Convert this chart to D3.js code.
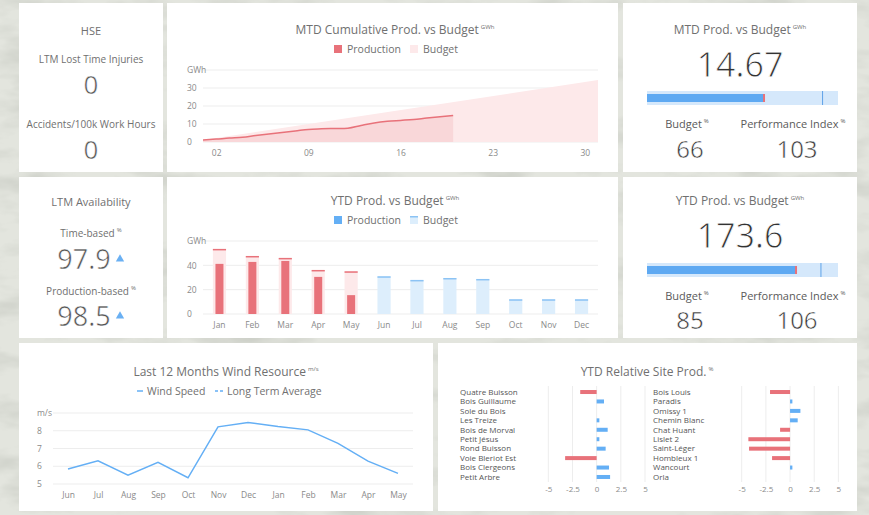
<!DOCTYPE html>
<html>
<head>
<meta charset="utf-8">
<script src="https://cdn.jsdelivr.net/npm/d3@7"></script>
<style>
  body { margin: 0; background: #e1e3dc; }
  svg text { font-family: "Open Sans", sans-serif; }
</style>
</head>
<body>
<svg id="dash" width="869" height="515"></svg>
<script>
// ---- data ----
const mtdDays = [1,2,3,4,5,6,7,8,9,10,11,12,13,14,15,16,17,18,19,20];
const mtdProd = [1.1,1.6,2.2,2.6,3.6,4.5,5.3,6.1,7.0,7.3,7.5,7.7,9.2,10.6,11.5,12.0,12.5,13.3,14.0,14.67];
const mtdBudgetDays = [1, 31];
const mtdBudget = [1.1, 34.4];
const mtdTicks = [2, 9, 16, 23, 30];

const months = ["Jan","Feb","Mar","Apr","May","Jun","Jul","Aug","Sep","Oct","Nov","Dec"];
const ytdProd = [41.2, 42.8, 43.6, 30.5, 15.5];
const ytdBudget = [53.5, 47.7, 46.1, 36.2, 35.1, 31.0, 28.0, 29.6, 28.8, 12.1, 12.1, 12.1];

const kpiTitles = ["MTD Prod. vs Budget", "YTD Prod. vs Budget"];
const kpiValues = [14.67, 173.6];
const kpiLabels = ["14.67", "173.6"];
const kpiTargets = [22.2, 204];
const kpiMax = [24.15, 224];
const kpiBudgetPct = [66, 85];
const kpiPerfIdx = [103, 106];

const windMonths = ["Jun","Jul","Aug","Sep","Oct","Nov","Dec","Jan","Feb","Mar","Apr","May"];
const windSpeed = [5.85, 6.31, 5.5, 6.22, 5.35, 8.22, 8.47, 8.24, 8.05, 7.29, 6.29, 5.6];

const sitesA = ["Quatre Buisson","Bois Guillaume","Sole du Bois","Les Treize","Bois de Morval","Petit Jésus","Rond Buisson","Voie Bleriot Est","Bois Clergeons","Petit Arbre"];
const relA = [-1.7, 0.76, 0, 0.28, 1.14, 0.28, 0.93, -3.26, 1.28, 1.39];
const sitesB = ["Bois Louis","Paradis","Omissy 1","Chemin Blanc","Chat Huant","Lislet 2","Saint-Léger","Hombleux 1","Wancourt","Orla"];
const relB = [-2.07, 0.24, 1.07, 0.79, -1.03, -4.31, -4.24, -1.86, 0.24, 0];
const relTicks = [-5, -2.5, 0, 2.5, 5];

// ---- colours ----
const RED = "#e8727a", PINK = "#fde9ea", PINK2 = "#f9d7d9";
const BLUE = "#64aff5", LBLUE = "#ddeefc", BLUE_TOP = "#8cc3f4";
const GRID = "#ededed", TICK = "#8a8a8a", TITLE = "#707070";

const svg = d3.select("#dash");

// marble-ish background
const defs = svg.append("defs");
const f = defs.append("filter").attr("id", "marble").attr("x", 0).attr("y", 0).attr("width", "100%").attr("height", "100%");
f.append("feTurbulence").attr("type", "fractalNoise").attr("baseFrequency", "0.015 0.04").attr("numOctaves", 4).attr("seed", 7);
f.append("feColorMatrix").attr("type", "matrix")
  .attr("values", "0 0 0 0 0.55  0 0 0 0 0.57  0 0 0 0 0.52  1.6 0 0 0 -0.72");
svg.append("rect").attr("width", 869).attr("height", 515).attr("fill", "#e3e5de");
svg.append("rect").attr("width", 869).attr("height", 515).attr("filter", "url(#marble)");

function panel(x, y, w, h) {
  svg.append("rect").attr("x", x).attr("y", y).attr("width", w).attr("height", h).attr("fill", "#fff");
  return svg.append("g");
}

function txt(g, x, y, s, size, fill, anchor = "middle") {
  return g.append("text")
    .attr("x", x).attr("y", y).attr("dy", "0.35em")
    .attr("text-anchor", anchor)
    .attr("fill", fill)
    .style("font-size", size + "px")
    .text(s);
}

// big light numbers: thin the glyphs a little with a white stroke
function big(g, x, y, s, size, fill, thin) {
  return txt(g, x, y, s, size, fill)
    .attr("stroke", "#fff").attr("stroke-width", thin);
}

function sup(t, s) {
  t.append("tspan").attr("dx", 2).attr("dy", -5).style("font-size", "6px").text(s);
  return t;
}

function styleAxis(g) {
  g.select(".domain").remove();
  g.selectAll("text").attr("fill", TICK).style("font-size", "8.5px");
}

// ---- HSE ----
{
  const g = panel(19, 3, 144, 169);
  txt(g, 91, 31, "HSE", 11, TITLE);
  txt(g, 91, 59, "LTM Lost Time Injuries", 10, TITLE);
  big(g, 91, 85, "0", 26, "#555", 0.5);
  txt(g, 91, 124, "Accidents/100k Work Hours", 10, TITLE);
  big(g, 91, 150, "0", 26, "#555", 0.5);
}

// ---- MTD cumulative ----
{
  const g = panel(167, 3, 451, 169);
  sup(txt(g, 395, 30, "MTD Cumulative Prod. vs Budget", 12, TITLE), "GWh");
  g.append("rect").attr("x", 334).attr("y", 45).attr("width", 8).attr("height", 8).attr("fill", RED);
  txt(g, 347, 49, "Production", 10.5, TITLE, "start");
  g.append("rect").attr("x", 410).attr("y", 45).attr("width", 8).attr("height", 8).attr("fill", PINK);
  txt(g, 423, 49, "Budget", 10.5, TITLE, "start");

  const x = d3.scaleLinear().domain([1, 31]).range([203, 598]);
  const y = d3.scaleLinear().domain([0, 40]).range([142, 70]);

  g.selectAll(".grid").data([0, 10, 20, 30, 40]).join("line")
    .attr("x1", 203).attr("x2", 598).attr("y1", d => y(d)).attr("y2", d => y(d))
    .attr("stroke", GRID);

  const budget = mtdBudgetDays.map((d, i) => [d, mtdBudget[i]]);
  g.append("path").datum(budget)
    .attr("d", d3.area().x(d => x(d[0])).y0(y(0)).y1(d => y(d[1])))
    .attr("fill", PINK);

  const prod = mtdDays.map((d, i) => [d, mtdProd[i]]);
  g.append("path").datum(prod)
    .attr("d", d3.area().x(d => x(d[0])).y0(y(0)).y1(d => y(d[1])).curve(d3.curveMonotoneX))
    .attr("fill", PINK2);
  g.append("path").datum(prod)
    .attr("d", d3.line().x(d => x(d[0])).y(d => y(d[1])).curve(d3.curveMonotoneX))
    .attr("fill", "none").attr("stroke", RED).attr("stroke-width", 1.5);

  g.append("g").attr("transform", "translate(203,0)")
    .call(d3.axisLeft(y).tickValues([0, 10, 20, 30, 40]).tickSize(0)
      .tickFormat(d => d === 40 ? "GWh" : d))
    .call(styleAxis)
    .call(a => a.selectAll("text").attr("text-anchor", "start").attr("x", -16));

  g.append("g").attr("transform", `translate(0,${y(0)})`)
    .call(d3.axisBottom(x).tickValues(mtdTicks).tickSize(0).tickPadding(8)
      .tickFormat(d => String(d).padStart(2, "0")))
    .call(styleAxis);
}

// ---- KPI bullet panels ----
function kpi(i, px, py, ys) {
  const g = panel(px, py, 234, ys.h);
  sup(txt(g, 740, ys.title, kpiTitles[i], 12, TITLE), "GWh");
  big(g, 740, ys.num, kpiLabels[i], 34, "#333", 0.8);

  const x = d3.scaleLinear().domain([0, kpiMax[i]]).range([647, 838]);
  g.append("rect").attr("x", x(0)).attr("y", ys.bar).attr("width", x(kpiMax[i]) - x(0)).attr("height", 14)
    .attr("fill", "#d5e8fb");
  g.append("rect").attr("x", x(0)).attr("y", ys.bar + 3).attr("width", x(kpiValues[i]) - x(0)).attr("height", 8)
    .attr("fill", "#5ea9f2");
  g.append("rect").attr("x", x(kpiValues[i])).attr("y", ys.bar + 3).attr("width", 2).attr("height", 8)
    .attr("fill", RED);
  g.append("line").attr("x1", x(kpiTargets[i])).attr("x2", x(kpiTargets[i]))
    .attr("y1", ys.bar).attr("y2", ys.bar + 14).attr("stroke", "#5ea2e8").attr("stroke-width", 1);

  sup(txt(g, 687, ys.lab, "Budget", 11, "#5a5a5a"), "%");
  sup(txt(g, 793, ys.lab, "Performance Index", 11, "#5a5a5a"), "%");
  big(g, 690, ys.val, kpiBudgetPct[i], 24, "#333", 0.5);
  big(g, 797, ys.val, kpiPerfIdx[i], 24, "#333", 0.5);
}
kpi(0, 623, 3, { h: 169, title: 30, num: 65, bar: 91, lab: 124, val: 150 });
kpi(1, 623, 177, { h: 161, title: 201, num: 236, bar: 263, lab: 296, val: 321 });

// ---- LTM availability ----
{
  const g = panel(19, 177, 144, 161);
  txt(g, 91, 202, "LTM Availability", 11, TITLE);
  sup(txt(g, 91, 233, "Time-based", 10, TITLE), "%");
  big(g, 84, 260, "97.9", 27, "#555", 0.5);
  sup(txt(g, 91, 291, "Production-based", 10, TITLE), "%");
  big(g, 84, 317, "98.5", 27, "#555", 0.5);
  const tri = d3.symbol().type(d3.symbolTriangle).size(30);
  [259, 316].forEach(cy => g.append("path").attr("d", tri).attr("transform", `translate(120,${cy})`).attr("fill", "#6ab0f3"));
}

// ---- YTD monthly bars ----
{
  const g = panel(167, 177, 451, 161);
  sup(txt(g, 395, 201, "YTD Prod. vs Budget", 12, TITLE), "GWh");
  g.append("rect").attr("x", 334).attr("y", 216).attr("width", 8).attr("height", 8).attr("fill", BLUE);
  txt(g, 347, 220, "Production", 10.5, TITLE, "start");
  g.append("rect").attr("x", 410).attr("y", 216).attr("width", 8).attr("height", 8).attr("fill", LBLUE);
  g.append("rect").attr("x", 410).attr("y", 216).attr("width", 8).attr("height", 1.5).attr("fill", BLUE_TOP);
  txt(g, 423, 220, "Budget", 10.5, TITLE, "start");

  const x = d3.scaleBand().domain(months).range([203, 598]);
  const y = d3.scaleLinear().domain([0, 60]).range([314, 241]);
  const cx = m => x(m) + x.bandwidth() / 2;

  g.selectAll(".grid").data([0, 20, 40, 60]).join("line")
    .attr("x1", 203).attr("x2", 598).attr("y1", d => y(d)).attr("y2", d => y(d))
    .attr("stroke", GRID);

  const bw = x.bandwidth() * 0.4;
  const past = i => i < ytdProd.length;
  g.selectAll(".bud").data(ytdBudget).join("rect")
    .attr("x", (d, i) => cx(months[i]) - bw / 2).attr("width", bw)
    .attr("y", d => y(d)).attr("height", d => y(0) - y(d))
    .attr("fill", (d, i) => past(i) ? PINK : LBLUE);
  g.selectAll(".budtop").data(ytdBudget).join("rect")
    .attr("x", (d, i) => cx(months[i]) - bw / 2).attr("width", bw)
    .attr("y", d => y(d)).attr("height", 1.5)
    .attr("fill", (d, i) => past(i) ? RED : BLUE_TOP);
  g.selectAll(".prod").data(ytdProd).join("rect")
    .attr("x", (d, i) => cx(months[i]) - 4).attr("width", 8)
    .attr("y", d => y(d)).attr("height", d => y(0) - y(d))
    .attr("fill", RED);

  g.append("g").attr("transform", "translate(203,0)")
    .call(d3.axisLeft(y).tickValues([0, 20, 40, 60]).tickSize(0)
      .tickFormat(d => d === 60 ? "GWh" : d))
    .call(styleAxis)
    .call(a => a.selectAll("text").attr("text-anchor", "start").attr("x", -16));

  g.append("g").attr("transform", `translate(0,${y(0)})`)
    .call(d3.axisBottom(x).tickSize(0).tickPadding(8))
    .call(styleAxis);
}

// ---- wind resource ----
{
  const g = panel(19, 343, 414, 168);
  sup(txt(g, 226, 372, "Last 12 Months Wind Resource", 12, TITLE), "m/s");
  g.append("line").attr("x1", 137).attr("x2", 143).attr("y1", 391).attr("y2", 391).attr("stroke", BLUE).attr("stroke-width", 1.5);
  txt(g, 147, 391, "Wind Speed", 10.5, TITLE, "start");
  g.append("line").attr("x1", 215).attr("x2", 223).attr("y1", 391).attr("y2", 391).attr("stroke", BLUE)
    .attr("stroke-width", 1.5).attr("stroke-dasharray", "3,2");
  txt(g, 227, 391, "Long Term Average", 10.5, TITLE, "start");

  const x = d3.scalePoint().domain(windMonths).range([68, 398]);
  const y = d3.scaleLinear().domain([5, 9]).range([484, 413]);

  g.selectAll(".grid").data([5, 6, 7, 8, 9]).join("line")
    .attr("x1", 53).attr("x2", 413).attr("y1", d => y(d)).attr("y2", d => y(d))
    .attr("stroke", GRID);

  g.append("path").datum(windSpeed)
    .attr("d", d3.line().x((d, i) => x(windMonths[i])).y(d => y(d)))
    .attr("fill", "none").attr("stroke", BLUE).attr("stroke-width", 1.5);

  g.append("g").attr("transform", "translate(53,0)")
    .call(d3.axisLeft(y).tickValues([5, 6, 7, 8, 9]).tickSize(0)
      .tickFormat(d => d === 9 ? "m/s" : d))
    .call(styleAxis)
    .call(a => a.selectAll("text").attr("text-anchor", "start").attr("x", -16));

  g.append("g").attr("transform", `translate(0,${y(5)})`)
    .call(d3.axisBottom(x).tickSize(0).tickPadding(8))
    .call(styleAxis);
}

// ---- relative site production ----
{
  const g = panel(438, 343, 419, 168);
  sup(txt(g, 647, 372, "YTD Relative Site Prod.", 12, TITLE), "%");

  function side(names, vals, labelX, x0, x1) {
    const x = d3.scaleLinear().domain([-5, 5]).range([x0, x1]);
    const y = d3.scaleBand().domain(names).range([387.3, 481.7]);
    g.append("g").selectAll("line").data(relTicks).join("line")
      .attr("x1", d => x(d)).attr("x2", d => x(d)).attr("y1", 386).attr("y2", 482)
      .attr("stroke", GRID);
    g.append("g").selectAll("rect").data(vals).join("rect")
      .attr("x", d => x(Math.min(0, d))).attr("width", d => Math.abs(x(d) - x(0)))
      .attr("y", (d, i) => y(names[i]) + y.bandwidth() / 2 - 2).attr("height", 4)
      .attr("fill", d => d < 0 ? RED : BLUE);
    g.append("g").selectAll("text").data(names).join("text")
      .attr("x", labelX).attr("y", d => y(d) + y.bandwidth() / 2).attr("dy", "0.35em")
      .attr("fill", "#555").style("font-size", "8px").text(d => d);
    g.append("g").attr("transform", "translate(0,482)")
      .call(d3.axisBottom(x).tickValues(relTicks).tickSize(0).tickPadding(4).tickFormat(d => String(d)))
      .call(styleAxis)
      .call(a => a.selectAll("text").style("font-size", "8px"));
  }
  side(sitesA, relA, 460, 548.3, 645);
  side(sitesB, relB, 653, 741.7, 838.4);
}
</script>
</body>
</html>
